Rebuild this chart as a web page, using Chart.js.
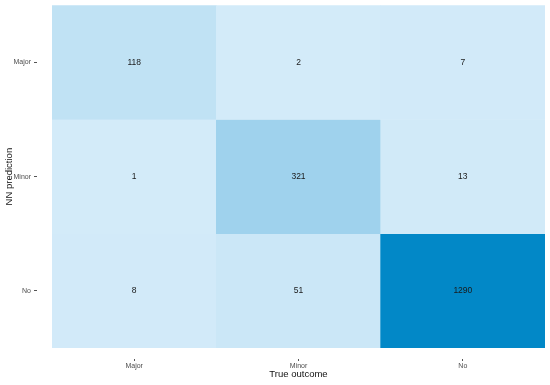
<!DOCTYPE html>
<html>
<head>
<meta charset="utf-8">
<script src="https://cdn.jsdelivr.net/npm/chart.js@4/dist/chart.umd.min.js"></script>
<style>
  html, body { margin: 0; padding: 0; background: #fff; }
  #wrap { width: 550px; height: 385px; }
</style>
</head>
<body>
<div id="wrap"><canvas id="cm"></canvas></div>
<script>
// true outcome (columns) and NN prediction (rows, top to bottom)
const trueLabels = ["Major", "Minor", "No"];
const predLabels = ["Major", "Minor", "No"];
const rowMajor = [118, 2, 7];
const rowMinor = [1, 321, 13];
const rowNo = [8, 51, 1290];
const rows = [rowMajor, rowMinor, rowNo];
const maxCount = 1290;

function cellColor(v) {
  const lo = [211, 235, 249], hi = [2, 136, 199];
  const t = v / maxCount;
  const c = lo.map((l, i) => Math.round(l + (hi[i] - l) * t));
  return "rgb(" + c.join(",") + ")";
}

// bottom row first, each row spans one unit on the y scale
const datasets = rows.map((vals, r) => {
  const pos = rows.length - 1 - r;
  return {
    label: predLabels[r],
    counts: vals,
    data: vals.map(() => [pos, pos + 1]),
    backgroundColor: vals.map(cellColor),
    borderWidth: 0,
    grouped: false,
    barPercentage: 1,
    categoryPercentage: 1
  };
});

const cellText = {
  id: "cellText",
  afterDatasetsDraw(chart) {
    const ctx = chart.ctx;
    ctx.save();
    ctx.font = "8.5px Arial, 'Liberation Sans', sans-serif";
    ctx.fillStyle = "#1a1a1a";
    ctx.textAlign = "center";
    ctx.textBaseline = "middle";
    chart.data.datasets.forEach((ds, i) => {
      chart.getDatasetMeta(i).data.forEach((bar, j) => {
        const p = bar.getCenterPoint();
        ctx.fillText(String(ds.counts[j]), p.x, p.y);
      });
    });
    ctx.restore();
  }
};

new Chart(document.getElementById("cm"), {
  type: "bar",
  data: { labels: trueLabels, datasets: datasets },
  options: {
    responsive: true,
    maintainAspectRatio: false,
    animation: false,
    layout: { padding: { top: 5, right: 5 } },
    plugins: { legend: { display: false }, tooltip: { enabled: false } },
    scales: {
      x: {
        grid: {
          offset: false, drawOnChartArea: false, drawTicks: true,
          tickLength: 14, tickColor: "#555", tickWidth: 1,
          tickBorderDash: [0, 11, 2, 100]
        },
        border: { display: false },
        ticks: { color: "#4d4d4d", font: { size: 7, family: "Arial, 'Liberation Sans', sans-serif" }, padding: 0 },
        title: { display: true, text: "True outcome", color: "#111", padding: { top: 0, bottom: 5 },
          font: { size: 9.5, family: "Arial, 'Liberation Sans', sans-serif" } },
        afterFit(scale) { scale.height = 37; }
      },
      y: {
        min: 0, max: 3,
        afterBuildTicks(scale) {
          scale.ticks = [0.5, 1.5, 2.5].map(v => ({ value: v }));
        },
        grid: {
          drawOnChartArea: false, drawTicks: true,
          tickLength: 20, tickColor: "#555", tickWidth: 1,
          tickBorderDash: [0, 2, 3, 100]
        },
        border: { display: false },
        ticks: {
          color: "#4d4d4d", padding: 1,
          font: { size: 7, family: "Arial, 'Liberation Sans', sans-serif" },
          callback: v => predLabels[predLabels.length - 1 - Math.floor(v)]
        },
        title: { display: true, text: "NN prediction", color: "#111", padding: { top: 4, bottom: 2 },
          font: { size: 9.5, family: "Arial, 'Liberation Sans', sans-serif" } },
        afterFit(scale) { scale.width = 52; }
      }
    }
  },
  plugins: [cellText]
});
</script>
</body>
</html>
